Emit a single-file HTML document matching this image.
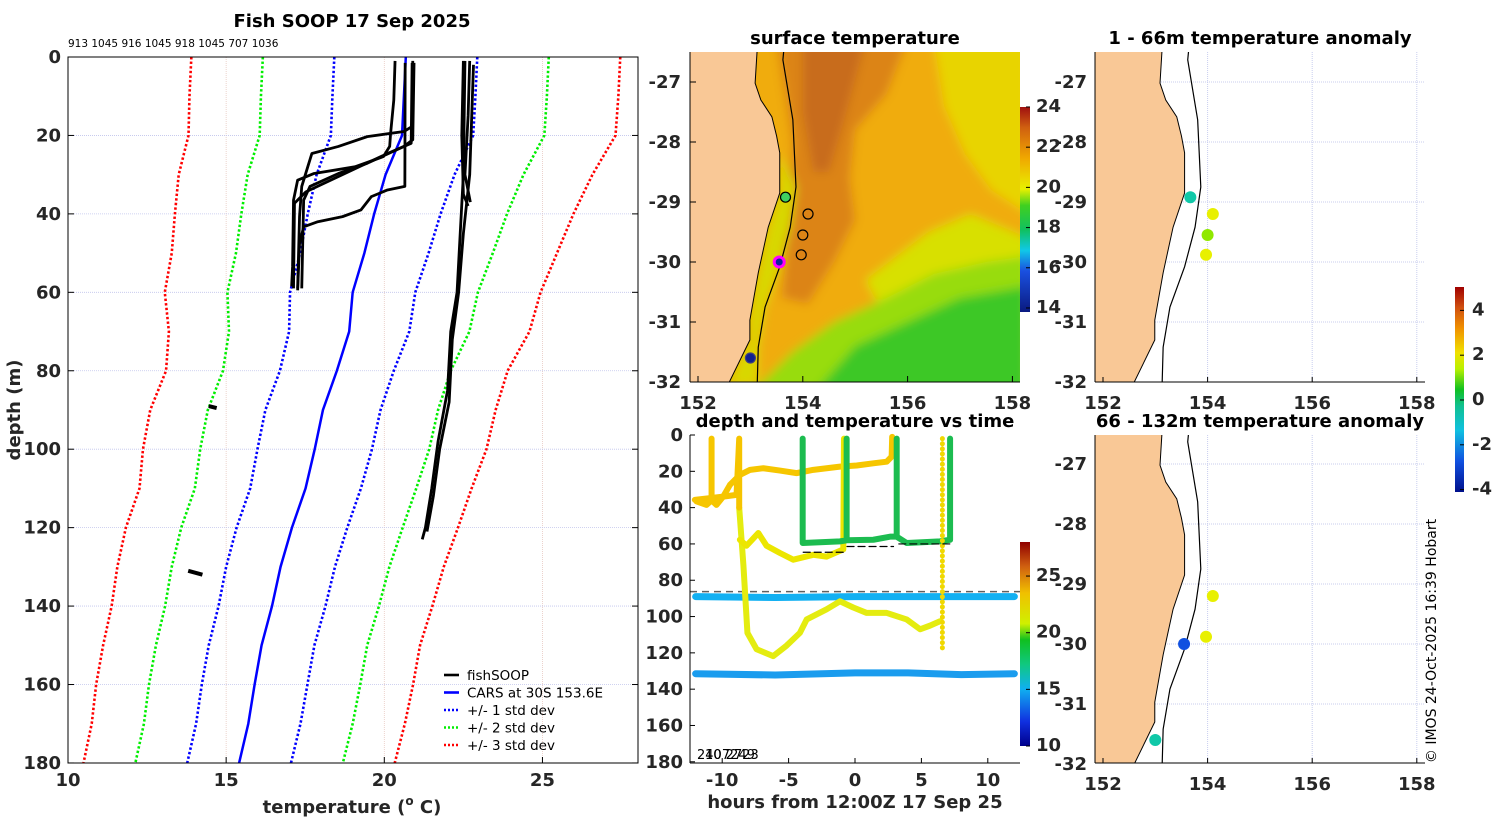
<!DOCTYPE html>
<html><head><meta charset="utf-8"><style>
html,body{margin:0;padding:0;background:#fff;}
svg{display:block;font-family:"DejaVu Sans","Liberation Sans",sans-serif;}
.tk{font-weight:bold;font-size:18px;fill:#262626;}
.ttl{font-weight:bold;font-size:18px;fill:#000;}
</style></head><body>
<svg id="fig" width="1500" height="820" viewBox="0 0 1500 820" xmlns="http://www.w3.org/2000/svg">
<defs>
<linearGradient id="gSst" x1="0" y1="1" x2="0" y2="0">
<stop offset="0" stop-color="#0a1a80"/><stop offset="0.2" stop-color="#1a50e0"/><stop offset="0.3" stop-color="#10c8e8"/>
<stop offset="0.4" stop-color="#10c060"/><stop offset="0.52" stop-color="#40d020"/><stop offset="0.6" stop-color="#e8f000"/>
<stop offset="0.75" stop-color="#f0a800"/><stop offset="0.9" stop-color="#d06010"/><stop offset="1" stop-color="#a01010"/></linearGradient>
<linearGradient id="gTime" x1="0" y1="1" x2="0" y2="0">
<stop offset="0" stop-color="#00008c"/><stop offset="0.12" stop-color="#1030e0"/><stop offset="0.28" stop-color="#10b0f0"/>
<stop offset="0.4" stop-color="#10c880"/><stop offset="0.52" stop-color="#10c020"/><stop offset="0.6" stop-color="#d0f000"/>
<stop offset="0.75" stop-color="#f0c000"/><stop offset="0.88" stop-color="#d06010"/><stop offset="1" stop-color="#900000"/></linearGradient>
<linearGradient id="gAnom" x1="0" y1="1" x2="0" y2="0">
<stop offset="0" stop-color="#00108c"/><stop offset="0.15" stop-color="#1050e0"/><stop offset="0.3" stop-color="#10c0e0"/>
<stop offset="0.42" stop-color="#10c090"/><stop offset="0.5" stop-color="#10c020"/><stop offset="0.6" stop-color="#b8f000"/>
<stop offset="0.68" stop-color="#f0e000"/><stop offset="0.8" stop-color="#f09000"/><stop offset="0.9" stop-color="#d05010"/><stop offset="1" stop-color="#a00000"/></linearGradient>
<clipPath id="cMap"><rect x="690" y="52" width="330" height="330"/></clipPath>
<clipPath id="cR1"><rect x="1095" y="52" width="330" height="330"/></clipPath>
<clipPath id="cR2"><rect x="1095" y="435" width="330" height="328"/></clipPath>
<filter id="blur" x="-10%" y="-10%" width="120%" height="120%"><feGaussianBlur stdDeviation="5"/></filter>
</defs>
<g id="root"></g>
</svg>
<script>
// ---------- profile panel data ----------
const cDepths = [0,10,20,30,40,50,60,70,80,90,100,110,120,130,140,150,160,170,180];
const carsMean = [20.68,20.62,20.56,20.04,19.68,19.37,19.0,18.89,18.5,18.06,17.8,17.51,17.08,16.72,16.45,16.12,15.9,15.7,15.41];
const carsSd = [2.26,2.26,2.25,2.18,2.1,2.03,1.98,1.9,1.8,1.82,1.81,1.75,1.75,1.72,1.69,1.67,1.67,1.65,1.64];
const xTicks = [10,15,20,25];
const yTicks = [0,20,40,60,80,100,120,140,160,180];
const cast1 = [[20.34,1],[20.3,11],[20.2,19.4],[20.17,22.8],[19.97,25.4],[19.07,28],[17.78,29.7],[17.26,31.4],[17.13,36.5],[17.1,53.5],[17.07,58.5]];
const cast2 = [[20.9,1],[20.88,17.7],[20.62,19],[19.46,20.3],[18.55,22.8],[17.71,24.6],[17.58,28],[17.39,33],[17.32,40.7],[17.26,59]];
const cast3 = [[20.94,1.5],[20.9,21.1],[20.62,22.8],[19.46,27.1],[18.55,29.7],[17.65,33],[17.45,36.5],[17.39,59]];
const cast4 = [[20.88,1.5],[20.85,22],[20.1,24.6],[19.2,28],[17.52,34.4],[17.16,37.3],[17.13,59]];
const cast5 = [[20.66,1.5],[20.65,33],[20.1,33.9],[19.59,35.6],[19.26,39],[18.68,40.7],[17.9,42],[17.45,43.3],[17.32,47.6],[17.26,59.5]];
const cast6 = [[22.5,1],[22.45,20],[22.5,35],[22.65,38]];
const cast7 = [[22.7,1],[22.65,15],[22.55,30],[22.72,37]];
const cast8 = [[22.55,1],[22.5,30],[22.4,45],[22.3,60],[22.1,70],[22.0,85],[21.7,98],[21.5,110],[21.3,120],[21.2,123]];
const cast9 = [[22.82,2],[22.7,30],[22.5,45],[22.35,60],[22.15,72],[22.05,88],[21.75,100],[21.55,112],[21.35,121]];
const cast10 = [[14.45,89],[14.7,89.5]];
const cast11 = [[13.8,131],[14.25,132]];
// ---------- time panel data ----------
const hTicks = [-10,-5,0,5,10];
const tdTicks = [0,20,40,60,80,100,120,140,160,180];
const trackA = [[-11.93,36.6],[-11.18,38.5],[-10.8,36],[-10.8,2],[-10.8,36],[-10.43,38.5],[-9.92,33.9],[-9.42,27.5],[-8.67,22],[-7.9,19.2],[-6.9,18.3],[-5.65,19.6],[-4.4,21],[-3.14,19.2],[-1.13,17.4],[0.13,16.8],[1.38,15.6],[2.39,14.7],[2.76,11.9],[2.8,1]];
const trackB1 = [[-12.06,35.7],[-10,34],[-8.92,33],[-8.72,2],[-8.72,40]];
const trackB2 = [[-8.72,40],[-8.4,72],[-8.1,109],[-7.41,118],[-6.16,121.8],[-5.15,116],[-4.15,109],[-3.64,101.6],[-2.14,96],[-1.13,91.6],[-0.13,95],[0.88,98],[2.39,98],[3.89,101.6],[4.9,107],[5.65,105],[6.4,102.6]];
const trackC = [[-8.67,57.7],[-8.17,61],[-7.28,54],[-6.66,61],[-5.65,65],[-4.65,68.7],[-3.14,66],[-2.14,67],[-0.88,63],[-0.83,2]];
const trackG = [[-3.94,2],[-3.94,59.5],[-1.13,58.6],[-0.63,58],[-0.63,2],[-0.63,58],[1.38,57.7],[2.64,56],[3.14,56],[3.14,2],[3.14,56],[3.89,59.5],[6.4,58.6],[7.16,57.7],[7.16,2]];
const trackY = [[6.58,2],[6.58,118]];
const dash1 = [[-3.9,64.6],[-0.75,64.6]];
const dash2 = [[-0.6,61.4],[2.9,61.4]];
const dash3 = [[3.3,60],[7.16,60]];
const blueTrack1 = [[-12,89],[-6,89.5],[0,89],[6,89],[12,89]];
const blueTrack2 = [[-12,131.5],[-6,132.2],[0,131],[4,131],[8,132],[12,131.5]];
const bottomDepth = 86.3;
// ---------- map data ----------
const coastLon = [153.13,153.09,153.2,153.41,153.5,153.56,153.56,153.34,153.15,152.99,152.99,152.57];
const coastLat = [-26.45,-27.02,-27.3,-27.58,-27.9,-28.18,-28.85,-29.42,-30.18,-30.97,-31.3,-32.05];
const isoLon = [153.64,153.62,153.81,153.87,153.76,153.56,153.28,153.15,153.13];
const isoLat = [-26.45,-26.63,-27.63,-28.75,-29.42,-30.08,-30.75,-31.42,-32.05];
const stnLon = [153.67,154.1,154.0,153.97,153.55,153.0];
const stnLat = [-28.92,-29.2,-29.55,-29.88,-30.0,-31.6];
const anomShallow = [-0.7,1.6,1.0,1.8,null,null];
const anomDeep = [null,1.5,null,2.0,-3.2,-0.9];
const latTicks = [-27,-28,-29,-30,-31,-32];
const lonTicks = [152,154,156,158];

const NS='http://www.w3.org/2000/svg';
const root=document.getElementById('root');
function el(tag,attrs,parent){const e=document.createElementNS(NS,tag);for(const k in attrs)e.setAttribute(k,attrs[k]);(parent||root).appendChild(e);return e;}
function txt(s,x,y,cls,anchor,parent,extra){const t=el('text',Object.assign({x:x,y:y,'text-anchor':anchor||'middle'},extra||{}),parent);if(cls)t.setAttribute('class',cls);t.textContent=s;return t;}

// ===== Left profile panel =====
const tX=T=>68+(T-10)*31.63, dY=d=>57+d*3.922;
const gP=el('g',{});


xTicks.slice(1).forEach(v=>{const l=el('line',{x1:tX(v),x2:tX(v),y1:57,y2:763,stroke:'#e8c8c0','stroke-width':0.8,'stroke-dasharray':'1 1'},gP);
});
yTicks.forEach(v=>{const l=el('line',{x1:68,x2:638,y1:dY(v),y2:dY(v),stroke:'#c0c4ec','stroke-width':0.8,'stroke-dasharray':'1 1'},gP);
});
function prof(k,color,name){const pts=cDepths.map((d,i)=>tX(carsMean[i]+k*carsSd[i])+','+dY(d)).join(' ');
const p=el('polyline',{points:pts,fill:'none',stroke:color,'stroke-width':k===0?2.5:2.6,'stroke-dasharray':k===0?'none':'2.4 2.2'},gP);
}
prof(-3,'#ff0000','minus-3-std-line');prof(3,'#ff0000','plus-3-std-line');
prof(-2,'#00ee00','minus-2-std-line');prof(2,'#00ee00','plus-2-std-line');
prof(-1,'#0000ff','minus-1-std-line');prof(1,'#0000ff','plus-1-std-line');
prof(0,'#0000ff','cars-mean-line');
[cast1,cast2,cast3,cast4,cast5,cast6,cast7,cast8,cast9,cast10,cast11].forEach((c,i)=>{
const p=el('polyline',{points:c.map(q=>tX(q[0])+','+dY(q[1])).join(' '),fill:'none',stroke:'#000','stroke-width':i>=9?4:2.8,'stroke-linejoin':'round'},gP);
});
el('rect',{x:68,y:57,width:570,height:706,fill:'none',stroke:'#000','stroke-width':1},gP);
xTicks.forEach(v=>{el('line',{x1:tX(v),x2:tX(v),y1:763,y2:757,stroke:'#000'},gP);const t=txt(String(v),tX(v),786,'tk','middle',gP);
});
yTicks.forEach(v=>{el('line',{x1:68,x2:74,y1:dY(v),y2:dY(v),stroke:'#000'},gP);el('line',{x1:632,x2:638,y1:dY(v),y2:dY(v),stroke:'#000'},gP);
const t=txt(String(v),61,dY(v)+6,'tk','end',gP);});
</script>
<script>
(function(){
const gP=root.lastChild;
const t1=txt('Fish SOOP 17 Sep 2025',352,27,'ttl','middle',gP,{'font-size':'19px'});

const t2=txt('913 1045 916 1045 918 1045 707 1036',68,47,null,'start',gP,{'font-size':'10.5px'});

const yl=txt('depth (m)',20,410,'tk','middle',gP,{transform:'rotate(-90 20 410)','font-size':'19px'});

const xl=el('text',{x:352,y:813,'text-anchor':'middle','class':'tk','font-size':'20px'},gP);

xl.innerHTML='temperature (<tspan font-size="12px" dy="-8">o</tspan><tspan dy="8"> C)</tspan>';
const leg=[['fishSOOP','#000','none'],['CARS at 30S 153.6E','#0000ff','none'],['+/- 1 std dev','#0000ff','2 2'],['+/- 2 std dev','#00ee00','2 2'],['+/- 3 std dev','#ff0000','2 2']];
leg.forEach((e,i)=>{const y=675+i*17.5;const g=el('g',{},gP);

el('line',{x1:444,x2:459,y1:y,y2:y,stroke:e[1],'stroke-width':2.6,'stroke-dasharray':e[2]},g);
txt(e[0],467,y+5,null,'start',g,{'font-size':'13.5px'});});
})();
</script>
<script>
// ===== Surface temperature map =====
(function(){
const mx=lon=>698+(lon-152)*52.4, my=lat=>82+(-27-lat)*60;
const g=el('g',{});


const oc=el('g',{'clip-path':'url(#cMap)'},g);
const blur=el('g',{filter:'url(#blur)'},oc);
el('rect',{x:680,y:40,width:350,height:350,fill:'#f0ac08'},blur);
function poly(pts,fill,par){return el('polygon',{points:pts.map(p=>mx(p[0])+','+my(p[1])).join(' '),fill:fill},par||blur);}
poly([[156.5,-26.3],[158.3,-26.3],[158.3,-29.2],[157.6,-28.8],[157.1,-28.2],[156.7,-27.4]],'#e8d400');
poly([[155.2,-30.3],[156.4,-29.5],[157.2,-29.2],[158.3,-29.6],[158.3,-30.2],[156.5,-30.5],[155.5,-30.8]],'#d8e000');
poly([[153.0,-32.2],[153.8,-31.5],[154.6,-31.0],[155.6,-30.6],[156.5,-30.2],[157.5,-30.0],[158.3,-29.9],[158.3,-32.2]],'#98dc10');
poly([[154.2,-32.2],[155,-31.4],[156,-31.0],[157,-30.6],[158.3,-30.4],[158.3,-32.2]],'#3cc828');
poly([[153.5,-26.3],[156,-26.3],[155.6,-27.2],[155.0,-27.8],[154.9,-28.6],[155.0,-29.3],[154.6,-30.0],[154.1,-30.7],[153.6,-30.6],[153.7,-29.5],[153.8,-28.0]],'#dc8418');
poly([[154.0,-26.3],[155.2,-26.3],[154.8,-27.6],[154.5,-28.5],[154.2,-28.5],[154.0,-27.5]],'#c86c1c');
const strip=[];for(let i=5;i<coastLon.length;i++)strip.push([coastLon[i],coastLat[i]]);
for(let i=isoLon.length-1;i>=3;i--)strip.push([isoLon[i],isoLat[i]]);
poly(strip,'#d8d800');
const land=coastLon.map((v,i)=>[v,coastLat[i]]).concat([[151,-32.2],[151,-26.3]]);
const L=poly(land,'#f9c896',oc);L.setAttribute('stroke','#000');L.setAttribute('stroke-width','1');

const iso=el('polyline',{points:isoLon.map((v,i)=>mx(v)+','+my(isoLat[i])).join(' '),fill:'none',stroke:'#000','stroke-width':1.2},oc);

const sc=[['#40d060','#000'],['none','#000'],['none','#000'],['none','#000'],['#1020a0','#ff00ff'],['#102090','#404080']];
stnLon.forEach((v,i)=>{const c=el('circle',{cx:mx(v),cy:my(stnLat[i]),r:5,fill:sc[i][0],stroke:sc[i][1],'stroke-width':i===4?3:1.2},oc);
});
el('line',{x1:690,x2:690,y1:52,y2:382,stroke:'#000'},g);el('line',{x1:690,x2:1020,y1:382,y2:382,stroke:'#000'},g);
latTicks.forEach(v=>{el('line',{x1:690,x2:696,y1:my(v),y2:my(v),stroke:'#000'},g);const t=txt(String(v),681,my(v)+6,'tk','end',g,{'font-size':'17px'});
});
lonTicks.forEach(v=>{el('line',{x1:mx(v),x2:mx(v),y1:382,y2:376,stroke:'#000'},g);const t=txt(String(v),mx(v),409,'tk','middle',g,{'font-size':'18px'});
});
const tt=txt('surface temperature',855,44,'ttl','middle',g);
const cb=el('rect',{x:1020,y:107,width:10,height:205,fill:'url(#gSst)'},g);

const cbT=[24,22,20,18,16,14];
cbT.forEach(v=>{const y=312-(v-13.8)*20.1;el('line',{x1:1026,x2:1030,y1:y,y2:y,stroke:'#000'},g);
const t=txt(String(v),1036,y+5,'tk','start',g,{'font-size':'14px'});});
})();
// ===== Anomaly maps =====
function anomMap(y0,top,bot,clip,title,vals,name){
const mx=lon=>1103+(lon-152)*52.3, my=lat=>y0+(-27-lat)*60;
const g=el('g',{});


const oc=el('g',{'clip-path':'url(#'+clip+')'},g);
lonTicks.slice(1).forEach(v=>el('line',{x1:mx(v),x2:mx(v),y1:top,y2:bot,stroke:'#c8cdee','stroke-dasharray':'1 1'},oc));
latTicks.forEach(v=>el('line',{x1:1095,x2:1425,y1:my(v),y2:my(v),stroke:'#c8cdee','stroke-dasharray':'1 1'},oc));
const land=coastLon.map((v,i)=>mx(v)+','+my(coastLat[i])).concat([mx(151)+','+my(-32.3),mx(151)+','+my(-26)]).join(' ');
const L=el('polygon',{points:land,fill:'#f9c896',stroke:'#000','stroke-width':1},oc);

const iso=el('polyline',{points:isoLon.map((v,i)=>mx(v)+','+my(isoLat[i])).join(' '),fill:'none',stroke:'#000','stroke-width':1.2},oc);

vals.forEach((a,i)=>{if(a===null)return;
const c=el('circle',{cx:mx(stnLon[i]),cy:my(stnLat[i]),r:6,fill:anomColor(a)},oc);
});
el('line',{x1:1095,x2:1095,y1:top,y2:bot,stroke:'#000'},g);el('line',{x1:1095,x2:1425,y1:bot,y2:bot,stroke:'#000'},g);
latTicks.forEach(v=>{const t=txt(String(v),1087,my(v)+6,'tk','end',g,{'font-size':'17px'});});
lonTicks.forEach(v=>{el('line',{x1:mx(v),x2:mx(v),y1:bot,y2:bot-5,stroke:'#000'},g);const t=txt(String(v),mx(v),bot+27,'tk','middle',g,{'font-size':'18px'});
});
const tt=txt(title,1260,top-8,'ttl','middle',g);
}
function anomColor(a){const stops=[[-4,'#0a20a0'],[-3,'#1050e0'],[-2,'#10a0e8'],[-1,'#10c8a8'],[0,'#10c840'],[1,'#90e800'],[2,'#e8f000'],[3,'#f0a000'],[4,'#d05010']];
for(let i=stops.length-1;i>=0;i--)if(a>=stops[i][0]-0.5)return stops[i][1];return stops[0][1];}
anomMap(82,52,382,'cR1','1 - 66m temperature anomaly',anomShallow,'anomaly-map-shallow');
anomMap(464,435,763,'cR2','66 - 132m temperature anomaly',anomDeep,'anomaly-map-deep');
(function(){const g=el('g',{});


el('rect',{x:1455,y:287,width:9,height:205,fill:'url(#gAnom)'},g);
[4,2,0,-2,-4].forEach(v=>{const y=400-v*22.4;el('line',{x1:1460,x2:1464,y1:y,y2:y,stroke:'#000'},g);txt(String(v),1472,y+5,'tk','start',g,{'font-size':'14px'});});
const c=txt('© IMOS 24-Oct-2025 16:39 Hobart',1436,641,null,'middle',root,{transform:'rotate(-90 1436 641)','font-size':'14px',fill:'#000'});
})();
// ===== Time panel =====
(function(){
const hx=h=>855+h*13.28, dy=d=>435+d*1.8155;
const g=el('g',{});


function trk(pts,color,w,name,dash){const p=el('polyline',{points:pts.map(q=>hx(q[0])+','+dy(q[1])).join(' '),fill:'none',stroke:color,'stroke-width':w,'stroke-linejoin':'round','stroke-linecap':'round','stroke-dasharray':dash||'none'},g);
return p;}
trk(blueTrack1,'#12b0f2',7,'track-89m');
trk(blueTrack2,'#1a9cee',7,'track-131m');
const bl=el('line',{x1:690,x2:1020,y1:dy(bottomDepth),y2:dy(bottomDepth),stroke:'#606060','stroke-width':1.5,'stroke-dasharray':'7 5'},g);

trk(trackB2,'#e4ec10',6,'track-deep-yellow');
trk(trackB1,'#f6c400',6,'track-shallow-orange');
trk(trackA,'#f6c600',6,'track-20m');
trk(trackC,'#ece600',6,'track-60m-yellow');
trk(trackG,'#1cbc50',6,'track-green');
trk(trackY,'#f0d800',5,'track-dotted-yellow','0.1 5');
trk(dash1,'#000',1.2,'dash-line','7 4');trk(dash2,'#000',1.2,'dash-line','7 4');trk(dash3,'#000',1.2,'dash-line','7 4');
el('line',{x1:690,x2:690,y1:435,y2:763,stroke:'#000'},g);el('line',{x1:690,x2:1020,y1:763,y2:763,stroke:'#000'},g);
hTicks.forEach(v=>{el('line',{x1:hx(v),x2:hx(v),y1:763,y2:758,stroke:'#000'},g);const t=txt(String(v),hx(v),786,'tk','middle',g,{'font-size':'18px'});
});
tdTicks.forEach(v=>{el('line',{x1:690,x2:695,y1:dy(v),y2:dy(v),stroke:'#000'},g);const t=txt(String(v),683,dy(v)+6,'tk','end',g,{'font-size':'18px'});
});
const tt=txt('depth and temperature vs time',855,427,'ttl','middle',g);
const xl=txt('hours from 12:00Z 17 Sep 25',855,808,'tk','middle',g,{'font-size':'20px'});
const id1=txt('2407249',697,759,null,'start',g,{'font-size':'13px'});
const id2=txt('10 2723',705,759,null,'start',g,{'font-size':'13px'});
const cb=el('rect',{x:1020,y:542,width:10,height:204,fill:'url(#gTime)'},g);

[25,20,15,10].forEach(v=>{const y=746-(v-10)*11.33;el('line',{x1:1026,x2:1030,y1:y,y2:y,stroke:'#000'},g);const t=txt(String(v),1036,y+5,'tk','start',g,{'font-size':'14px'});
});
})();
</script>
</body></html>
